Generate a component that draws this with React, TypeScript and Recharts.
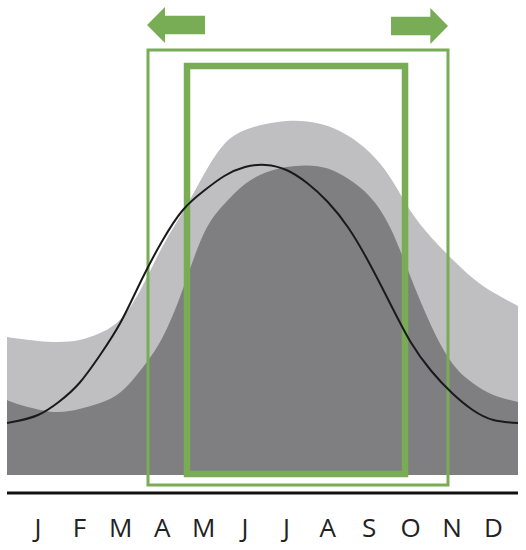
import { Area, ComposedChart, Line, ReferenceArea, XAxis, YAxis } from "recharts"

// Posição horizontal em "meses" (0 = jan ... 11 = dez); as bordas do gráfico
// ficam um pouco antes de jan e um pouco depois de dez.
const positions = [
  -0.749, -0.5, 0, 0.5, 1, 1.5, 2, 2.5, 3, 3.5, 4, 4.5, 5, 5.5, 6, 6.5, 7, 7.5, 8, 8.5, 9, 9.5, 10, 10.5, 11, 11.594,
]

const upperEnvelope = [
  34.5, 34.1, 33.5, 33.25, 33.75, 35.5, 39, 46.75, 57, 65.75, 75, 82.75, 86.25, 87.75, 88.5, 88.4, 87.25, 84.75,
  80.75, 74.5, 66, 59.4, 54, 49.25, 45.6, 42.25,
]

const lowerEnvelope = [
  18.75, 17.75, 16.4, 15.75, 16.5, 18, 20.75, 26.5, 34.25, 46.5, 60.25, 67.75, 72.75, 75.6, 77, 77.4, 76.6, 74,
  69.75, 62, 49.5, 37.25, 28, 23, 20, 18.25,
]

const curve = [
  13, 13.5, 15, 18.25, 23, 30, 38.25, 48.75, 58.5, 66.25, 71, 74.75, 77, 77.5, 76.25, 73, 68.25, 61.75, 53, 43,
  33.25, 26, 20.5, 16.25, 13.75, 13,
]

const monthLabels = ["J", "F", "M", "A", "M", "J", "J", "A", "S", "O", "N", "D"]
const monthTicks = monthLabels.map((_, i) => i)

// janela larga (fina) e janela estreita (grossa)
const outerWindow = { x1: 2.657, x2: 9.903, y1: -2.5, y2: 106.25 }
const innerWindow = { x1: 3.599, x2: 8.865, y1: 0.25, y2: 102.25 }

// setas indicando que a janela pode se estender pros dois lados
const leftArrow = { x1: 2.633, x2: 4.034, y1: 108, y2: 117 }
const rightArrow = { x1: 8.527, x2: 9.903, y1: 107.75, y2: 116.75 }

const GREEN = "#78ac55"

const data = positions.map((x, i) => ({
  x,
  upper: upperEnvelope[i],
  lower: lowerEnvelope[i],
  curve: curve[i],
}))

type BoxProps = { x?: number; y?: number; width?: number; height?: number }

function arrowPoints({ x = 0, y = 0, width = 0, height = 0 }: BoxProps, dir: "left" | "right") {
  const head = width * 0.31
  const shaftTop = y + height * 0.24
  const shaftBottom = y + height * 0.76
  const mid = y + height / 2
  if (dir === "left") {
    const base = x + head
    return [
      [x, mid],
      [base, y],
      [base, shaftTop],
      [x + width, shaftTop],
      [x + width, shaftBottom],
      [base, shaftBottom],
      [base, y + height],
    ]
  }
  const base = x + width - head
  return [
    [x + width, mid],
    [base, y],
    [base, shaftTop],
    [x, shaftTop],
    [x, shaftBottom],
    [base, shaftBottom],
    [base, y + height],
  ]
}

const LeftArrow = (props: BoxProps) => (
  <polygon points={arrowPoints(props, "left").map((p) => p.join(",")).join(" ")} fill={GREEN} />
)
const RightArrow = (props: BoxProps) => (
  <polygon points={arrowPoints(props, "right").map((p) => p.join(",")).join(" ")} fill={GREEN} />
)

export default function App() {
  return (
    <div style={{ position: "absolute", left: 0, top: 0, width: 526, height: 550 }}>
      <ComposedChart width={526} height={550} data={data} margin={{ top: 0, right: 8, left: 7, bottom: 7 }}>
        <XAxis
          dataKey="x"
          type="number"
          domain={[-0.749, 11.594]}
          ticks={monthTicks}
          tickFormatter={(v: number) => monthLabels[v] ?? ""}
          tickLine={false}
          tickMargin={20}
          height={50}
          axisLine={{ stroke: "#111", strokeWidth: 3 }}
          tick={{ fill: "#222", fontSize: 26, fontFamily: "Open Sans" }}
          allowDataOverflow
        />
        <YAxis hide type="number" domain={[-4.5, 118.75]} allowDataOverflow />
        <Area
          dataKey="upper"
          type="natural"
          baseValue={0}
          fill="#bfbfc1"
          fillOpacity={1}
          stroke="none"
          isAnimationActive={false}
        />
        <Area
          dataKey="lower"
          type="natural"
          baseValue={0}
          fill="#7f7f81"
          fillOpacity={1}
          stroke="none"
          isAnimationActive={false}
        />
        <Line dataKey="curve" type="natural" stroke="#1a1a1a" strokeWidth={2} dot={false} isAnimationActive={false} />
        <ReferenceArea {...outerWindow} fill="none" stroke={GREEN} strokeWidth={3} />
        <ReferenceArea {...innerWindow} fill="none" stroke={GREEN} strokeWidth={6.5} />
        <ReferenceArea {...leftArrow} shape={(p: BoxProps) => <LeftArrow {...p} />} />
        <ReferenceArea {...rightArrow} shape={(p: BoxProps) => <RightArrow {...p} />} />
      </ComposedChart>
    </div>
  )
}
